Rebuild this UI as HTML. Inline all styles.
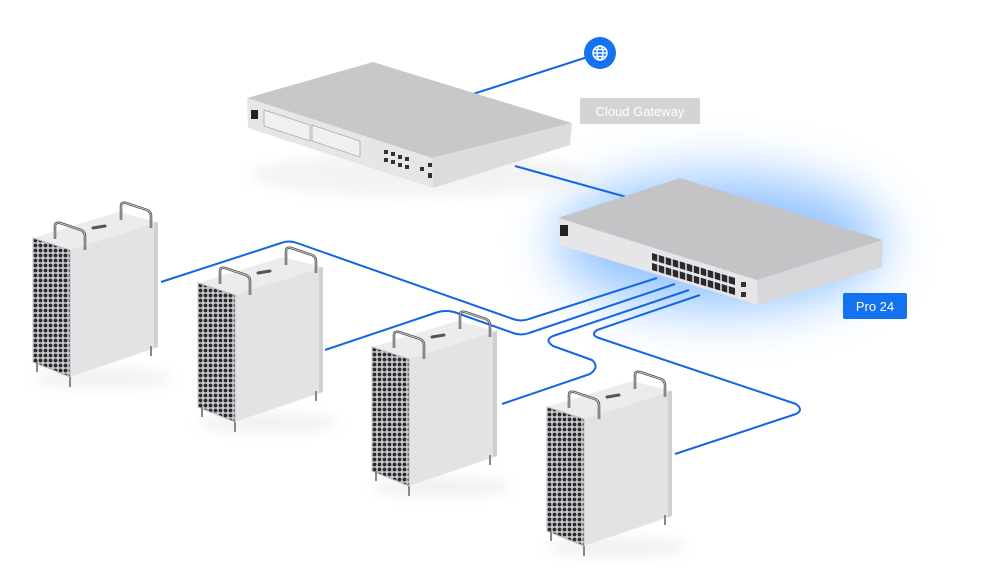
<!DOCTYPE html>
<html><head><meta charset="utf-8"><style>
html,body{margin:0;padding:0;background:#fff;}
svg{display:block}
</style></head><body>
<svg width="1000" height="573" viewBox="0 0 1000 573" xmlns="http://www.w3.org/2000/svg" font-family="Liberation Sans, sans-serif">
<defs>
<filter id="blur" x="-50%" y="-50%" width="200%" height="200%"><feGaussianBlur stdDeviation="26"/></filter>
<filter id="sb" x="-50%" y="-50%" width="200%" height="200%"><feGaussianBlur stdDeviation="6"/></filter>
<pattern id="holes" width="5" height="5" patternUnits="userSpaceOnUse">
<rect width="5" height="5" fill="#c9c9cc"/>
<circle cx="2.5" cy="2.5" r="1.9" fill="#2a2a2e"/>
</pattern>
<g id="tower">
<ellipse cx="70" cy="140" rx="70" ry="10" fill="#e4e4e4" filter="url(#sb)" opacity="0.5"/>
<polygon points="0,0 85,-26 125,-16 37,12" fill="#ececee"/>
<polygon points="37,12 125,-16 125,109 37,139" fill="#e3e3e5"/>
<polygon points="121,-15 125,-16 125,109 121,110" fill="#cfcfd2"/>
<polygon points="0,0 37,12 37,139 0,124" fill="url(#holes)"/>
<polygon points="0,0 37,12 37,139 0,124" fill="none" stroke="#bbb" stroke-width="1"/>
<path d="M22,1 L22,-12 Q22,-16 27,-15 L48,-8 Q52,-6 52,-2 L52,12" fill="none" stroke="#444" stroke-width="2.5"/>
<path d="M22,1 L22,-12 Q22,-16 27,-15 L48,-8 Q52,-6 52,-2 L52,12" fill="none" stroke="#ccc" stroke-width="1"/>
<path d="M88,-18 L88,-32 Q88,-36 93,-35 L114,-28 Q118,-26 118,-22 L118,-10" fill="none" stroke="#444" stroke-width="2.5"/>
<path d="M88,-18 L88,-32 Q88,-36 93,-35 L114,-28 Q118,-26 118,-22 L118,-10" fill="none" stroke="#ccc" stroke-width="1"/>
<path d="M60,-10 L72,-12" stroke="#555" stroke-width="3" stroke-linecap="round"/>
<path d="M4,124 v10 M37,139 v10 M118,108 v10" stroke="#888" stroke-width="2"/>
</g>
</defs>

<!-- glow -->
<ellipse cx="720" cy="242" rx="165" ry="68" fill="#4f9fff" opacity="0.6" filter="url(#blur)"/>
<ellipse cx="420" cy="175" rx="170" ry="22" fill="#e9e9e9" filter="url(#sb)" opacity="0.5"/>

<!-- lines -->
<g fill="none" stroke="#1466e6" stroke-width="2" stroke-linejoin="round">
<path d="M600,53 L470,95"/>
<path d="M515,166 L630,198"/>
<path d="M161,282 L281,243 Q289,240 297,243 L513,319 Q521,322 529,319 L657,278"/>
<path d="M325,350 L438,312 Q446,310 454,312 L513,333 Q521,336 529,333 L675,284"/>
<path d="M502,404 L590,374 Q600,367 592,360 L553,346 Q544,340 553,336 L689,290"/>
<path d="M599,338 Q590,335 597,330 L700,295 M599,338 L796,404 Q804,410 796,414 L675,454"/>
</g>

<!-- gateway -->
<polygon points="247,98 373,62 572,123 432,158" fill="#c8c8cb"/>
<polygon points="247,98 432,158 433,188 248,128" fill="#e6e6e8"/>
<polygon points="432,158 572,123 570,145 433,188" fill="#dcdcde"/>
<rect x="251" y="110" width="7" height="9" fill="#222"/>
<polygon points="264,110 310,125 310,141 264,126" fill="#f0f0f2" stroke="#aaa" stroke-width="0.8"/>
<polygon points="312,125 360,141 360,157 312,141" fill="#f0f0f2" stroke="#aaa" stroke-width="0.8"/>
<g fill="#333">
<rect x="384" y="150" width="4" height="4"/><rect x="391" y="152" width="4" height="4"/><rect x="398" y="155" width="4" height="4"/><rect x="405" y="157" width="4" height="4"/>
<rect x="384" y="158" width="4" height="4"/><rect x="391" y="160" width="4" height="4"/><rect x="398" y="163" width="4" height="4"/><rect x="405" y="165" width="4" height="4"/>
<rect x="420" y="167" width="4" height="4"/><rect x="428" y="163" width="4" height="4"/><rect x="428" y="173" width="4" height="5"/>
</g>

<!-- switch -->
<polygon points="558,218 680,178 883,240 757,280" fill="#c4c4c7"/>
<polygon points="558,218 757,280 758,305 560,245" fill="#e6e6e8"/>
<polygon points="757,280 883,240 882,267 758,305" fill="#d8d8db"/>
<rect x="560" y="225" width="8" height="11" fill="#222"/>
<g fill="#2a2a2e">
<polygon points="652,253 735,278 735,285 652,260"/>
<polygon points="652,263 735,288 735,295 652,270"/>
</g>
<g stroke="#e6e6e8" stroke-width="1.5">
<path d="M658,250 v24 M665,252 v24 M672,254 v24 M679,256 v24 M686,258 v24 M693,260 v24 M700,262 v24 M707,264 v24 M714,266 v24 M721,268 v24 M728,270 v24"/>
</g>
<rect x="741" y="282" width="5" height="5" fill="#333"/><rect x="741" y="292" width="5" height="5" fill="#333"/>

<!-- globe -->
<circle cx="600" cy="53" r="16" fill="#1472ef"/>
<g fill="none" stroke="#fff" stroke-width="1.4"><circle cx="600" cy="53" r="7"/><ellipse cx="600" cy="53" rx="3" ry="7"/><path d="M593,53h14M594,49.5h12M594,56.5h12"/></g>

<!-- labels -->
<rect x="580" y="98" width="120" height="26" fill="#d4d4d6"/>
<text x="640" y="116" text-anchor="middle" font-size="13" fill="#fff">Cloud Gateway</text>
<rect x="843" y="293" width="64" height="26" rx="2" fill="#1472ef"/>
<text x="875" y="311" text-anchor="middle" font-size="13" fill="#fff">Pro 24</text>

<!-- towers -->
<use href="#tower" x="33" y="238"/>
<use href="#tower" x="198" y="283"/>
<use href="#tower" x="372" y="347"/>
<use href="#tower" x="547" y="407"/>
</svg>
</body></html>
